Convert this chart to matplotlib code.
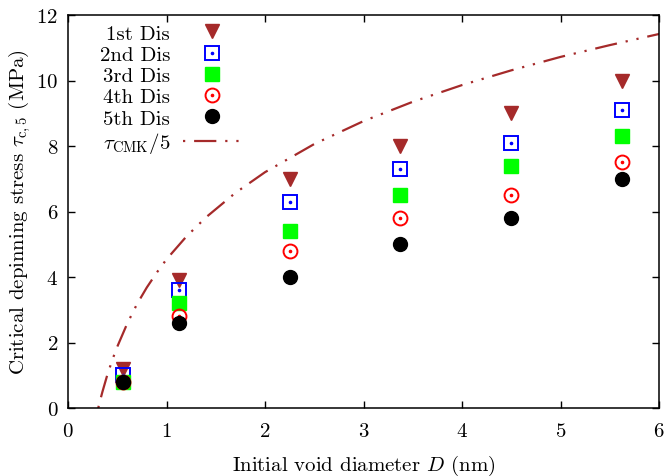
import matplotlib
matplotlib.use("Agg")
import matplotlib.pyplot as plt
from matplotlib.legend_handler import HandlerTuple

plt.rcParams['font.family'] = 'cmr10'
plt.rcParams['mathtext.fontset'] = 'cm'
plt.rcParams['axes.formatter.use_mathtext'] = True

# Data
D = [0.56, 1.13, 2.25, 3.37, 4.5, 5.62]
dis1 = [1.2, 3.9, 7.0, 8.0, 9.0, 10.0]
dis2 = [1.0, 3.6, 6.3, 7.3, 8.1, 9.1]
dis3 = [0.8, 3.2, 5.4, 6.5, 7.4, 8.3]
dis4 = [0.8, 2.8, 4.8, 5.8, 6.5, 7.5]
dis5 = [0.8, 2.6, 4.0, 5.0, 5.8, 7.0]

cmk_D = [0.307, 0.32, 0.35, 0.4, 0.45, 0.5, 0.6, 0.7, 0.8, 0.9, 1.0, 1.2, 1.4,
         1.7, 2.0, 2.5, 3.0, 3.5, 4.0, 4.5, 5.0, 5.5, 6.0]
cmk_tau = [0.0, 0.16, 0.50, 1.02, 1.47, 1.87, 2.57, 3.17, 3.68, 4.13, 4.54,
           5.23, 5.82, 6.57, 7.20, 8.06, 8.76, 9.35, 9.86, 10.31, 10.72, 11.08, 11.42]

labels = ['1st Dis', '2nd Dis', '3rd Dis', '4th Dis', '5th Dis', r'$\tau_{\mathrm{CMK}}/5$']
xticks = [0, 1, 2, 3, 4, 5, 6]
yticks = [0, 2, 4, 6, 8, 10, 12]

brown = '#A52A2A'
fs = 15

fig = plt.figure(figsize=(6.69, 4.77), dpi=100)
ax = fig.add_axes([68/669, 1-409/477, 591/669, 393/477])

h1, = ax.plot(D, dis1, ls='none', marker='v', ms=9.5, color=brown, mec=brown)
h2a, = ax.plot(D, dis2, ls='none', marker='s', ms=9.5, mfc='none', mec='#0000FF', mew=1.4)
h2b, = ax.plot(D, dis2, ls='none', marker='o', ms=1.6, color='#0000FF', mec='#0000FF')
h3, = ax.plot(D, dis3, ls='none', marker='s', ms=9.5, color='#00FF00', mec='#00FF00')
h4a, = ax.plot(D, dis4, ls='none', marker='o', ms=10, mfc='none', mec='#FF0000', mew=1.4)
h4b, = ax.plot(D, dis4, ls='none', marker='o', ms=1.6, color='#FF0000', mec='#FF0000')
h5, = ax.plot(D, dis5, ls='none', marker='o', ms=10, color='black')
h6, = ax.plot(cmk_D, cmk_tau, color=brown, lw=1.6,
              ls=(0, (1.0, 4.0, 10.0, 4.0, 1.0, 4.0)))

ax.set_xlim(0, 6)
ax.set_ylim(0, 12)
ax.set_xticks(xticks)
ax.set_yticks(yticks)
ax.tick_params(direction='in', top=True, right=True, length=5, width=1,
               labelsize=fs, pad=7)
ax.tick_params(axis='x', pad=10)
for s in ax.spines.values():
    s.set_linewidth(1.1)

ax.set_xlabel(r'Initial void diameter $D$ (nm)', fontsize=fs, labelpad=9)
ax.set_ylabel(r'Critical depinning stress $\tau_{\mathrm{c},5}$ (MPa)', fontsize=fs, labelpad=2)

leg = ax.legend([h1, (h2a, h2b), h3, (h4a, h4b), h5, h6], labels,
                handler_map={tuple: HandlerTuple(ndivide=1)},
                loc='upper right', bbox_to_anchor=((242-68)/591, (409-25)/393),
                frameon=False, markerfirst=False, numpoints=1, fontsize=fs,
                handlelength=2.85, handletextpad=0.6, labelspacing=0.13,
                borderpad=0, borderaxespad=0)

fig.savefig('out.png', dpi=100)
